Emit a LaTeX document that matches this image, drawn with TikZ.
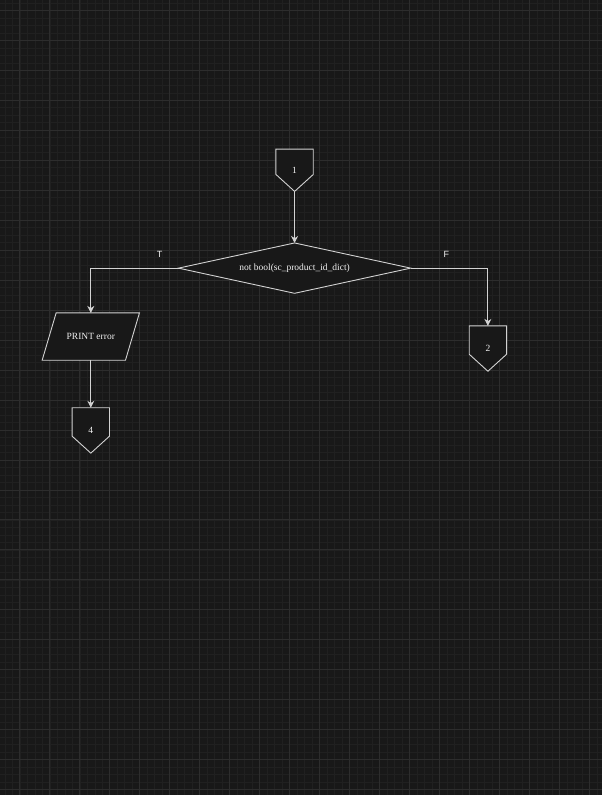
\documentclass[tikz,border=0pt]{standalone}
\usepackage{fontspec}
\setmainfont{Liberation Serif}
\newfontfamily\labelfont{Liberation Sans}
\usetikzlibrary{arrows.meta}
\definecolor{bgc}{HTML}{181818}
\definecolor{minorc}{HTML}{202020}
\definecolor{majorc}{HTML}{2D2D2D}
\definecolor{linec}{HTML}{D2D2D2}
\definecolor{txtc}{HTML}{F2F2F2}
\pgfdeclarelayer{gridlayer}
\pgfdeclarelayer{shapelayer}
\pgfsetlayers{gridlayer,shapelayer,main}
\begin{document}
\begin{tikzpicture}[x=1pt,y=-1pt,
  frame/.style 2 args={draw=none,inner sep=0pt,minimum width=#1,minimum height=#2,
    text=txtc,font=\fontsize{9.5}{11}\selectfont},
  shapeline/.style={draw=linec,line width=0.9pt,fill=bgc,line join=miter},
  conn/.style={draw=linec,line width=0.9pt,-{Stealth[length=7pt,width=7pt,inset=2.2pt]}},
  lbl/.style={text=txtc,font=\labelfont\fontsize{9}{10}\selectfont,inner sep=0pt}]
\begin{pgfonlayer}{gridlayer}
  \fill[bgc] (0,0) rectangle (602,795);
  \foreach \x in {4.5,12,...,602} \draw[minorc,line width=0.6pt] (\x,0) -- (\x,795);
  \foreach \y in {2.5,10,...,795} \draw[minorc,line width=0.6pt] (0,\y) -- (602,\y);
  \foreach \x in {19.5,49.5,...,602} \draw[majorc,line width=0.8pt] (\x,0) -- (\x,795);
  \foreach \y in {10,40,...,795} \draw[majorc,line width=0.8pt] (0,\y) -- (602,\y);
\end{pgfonlayer}
\useasboundingbox (0,0) rectangle (602,795);

% nodes
\node[frame={37pt}{42pt}] (n1) at (294.5,170) {1};
\node[frame={232pt}{50pt}] (d) at (294.5,268) {not bool(sc\_product\_id\_dict)};
\node[frame={97pt}{47pt}] (p) at (90.5,336.5) {PRINT error};
\node[frame={37pt}{45pt}] (n4) at (90.5,430.5) {4};
\node[frame={37pt}{45pt}] (n2) at (488,348.5) {2};

\begin{pgfonlayer}{shapelayer}
  \foreach \n in {n1,n2,n4}
    \path[shapeline] (\n.north west) -- (\n.north east) -- ([yshift=17pt]\n.south east)
      -- (\n.south) -- ([yshift=17pt]\n.south west) -- cycle;
  \path[shapeline] (d.north) -- (d.east) -- (d.south) -- (d.west) -- cycle;
  \path[shapeline] ([xshift=14pt]p.north west) -- (p.north east)
    -- ([xshift=-14pt]p.south east) -- (p.south west) -- cycle;
\end{pgfonlayer}

% connectors
\draw[conn] (n1.south) -- (d.north);
\draw[conn] (d.west) -| (p.north);
\draw[conn] (d.east) -| (n2.north);
\draw[conn] (p.south) -- (n4.north);

% labels
\node[lbl] (tl) at (159.5,254) {T};
\node[lbl] (fl) at (446.5,254) {F};
\end{tikzpicture}
\end{document}
